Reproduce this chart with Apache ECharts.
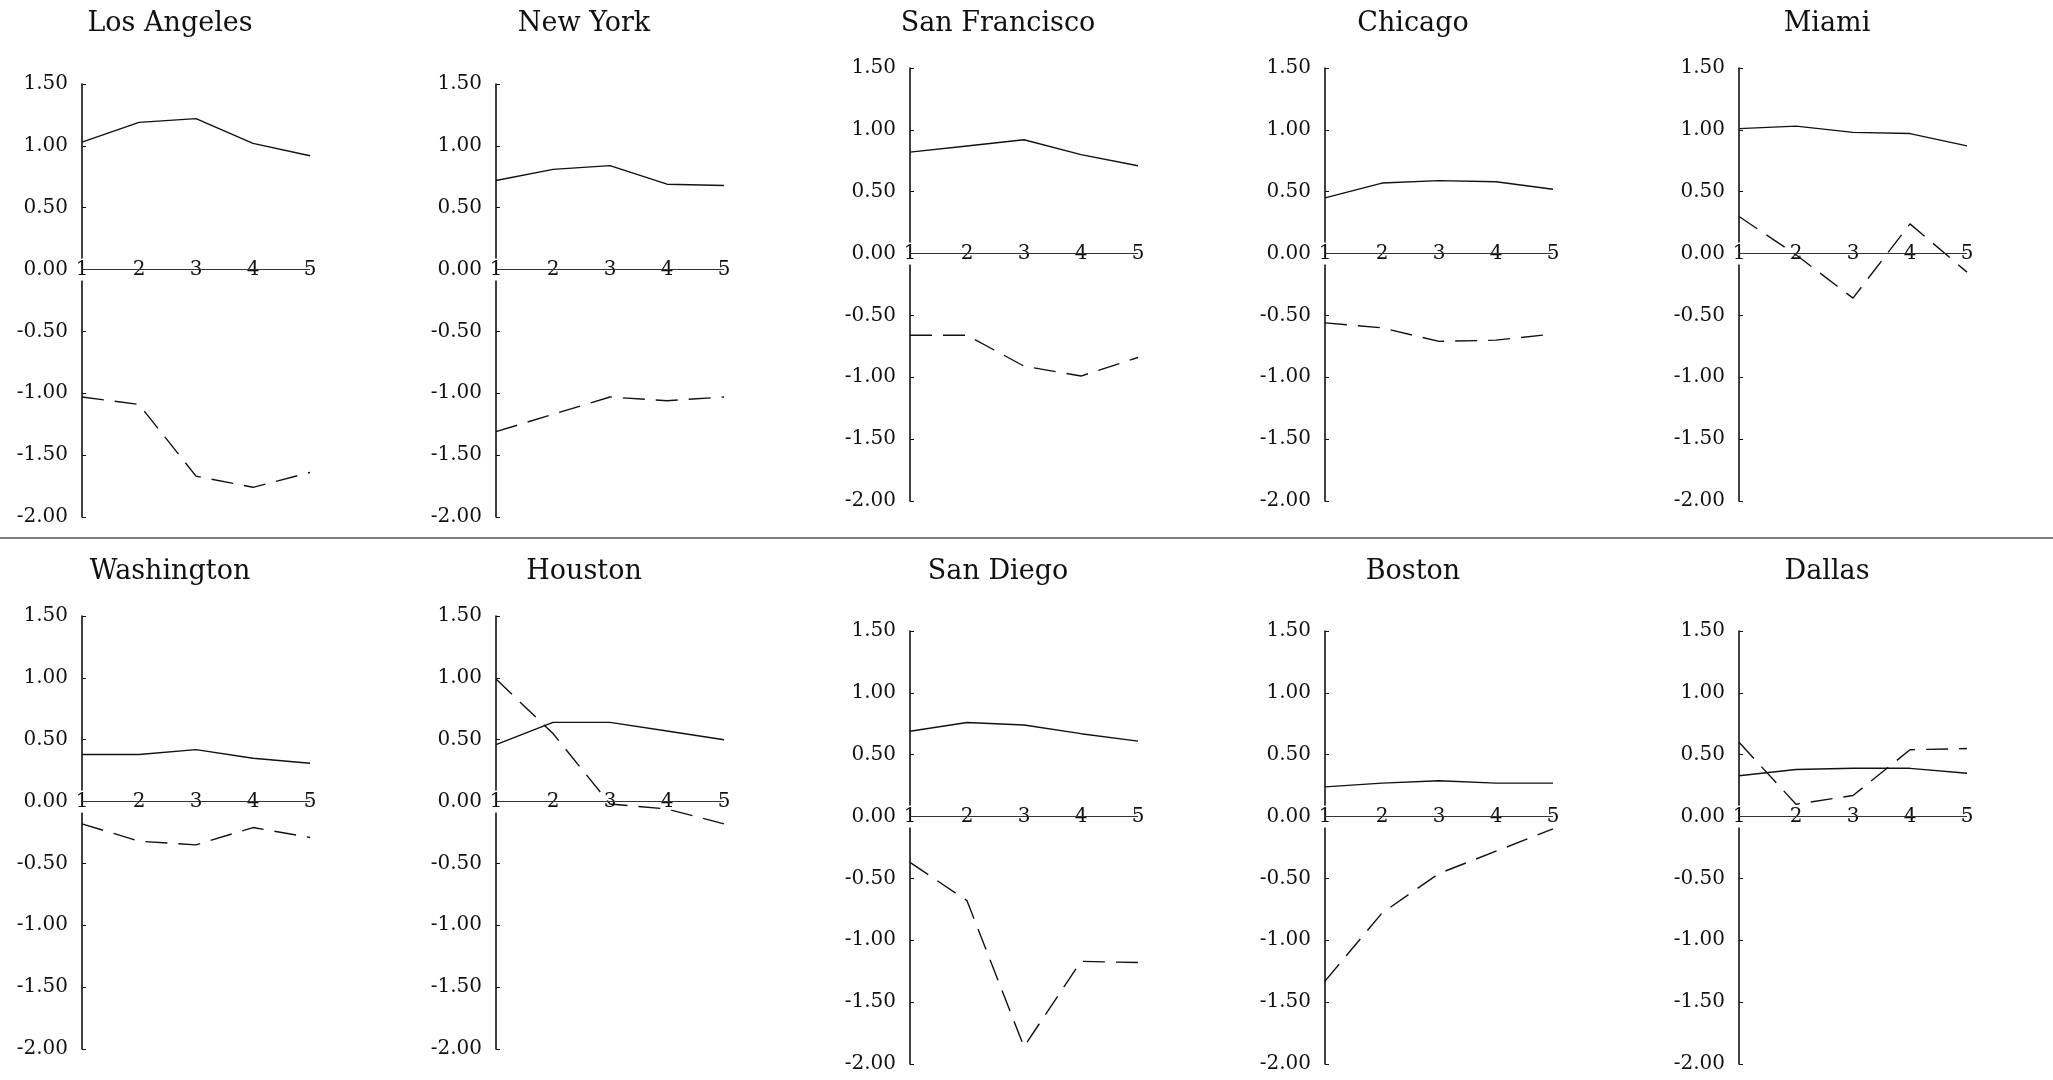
<!DOCTYPE html>
<html>
<head>
<meta charset="utf-8">
<script src="https://cdn.jsdelivr.net/npm/echarts@6/dist/echarts.min.js"></script>
<style>
  html, body { margin: 0; padding: 0; background: #fff; }
  #chart { width: 2053px; height: 1080px; }
</style>
</head>
<body>
<div id="chart"></div>
<script>
// data
const cities = ['Los Angeles', 'New York', 'San Francisco', 'Chicago', 'Miami',
  'Washington', 'Houston', 'San Diego', 'Boston', 'Dallas'];
const periods = ['1', '2', '3', '4', '5'];
const yTicks = [-2, -1.5, -1, -0.5, 0, 0.5, 1, 1.5];

// solid line per city
const solidLines = [
  [1.03, 1.19, 1.22, 1.02, 0.92],
  [0.72, 0.81, 0.84, 0.69, 0.68],
  [0.82, 0.87, 0.92, 0.80, 0.71],
  [0.45, 0.57, 0.59, 0.58, 0.52],
  [1.01, 1.03, 0.98, 0.97, 0.87],
  [0.38, 0.38, 0.42, 0.35, 0.31],
  [0.46, 0.64, 0.64, 0.57, 0.50],
  [0.69, 0.76, 0.74, 0.67, 0.61],
  [0.24, 0.27, 0.29, 0.27, 0.27],
  [0.33, 0.38, 0.39, 0.39, 0.35]
];
// dashed line per city
const dashedLines = [
  [-1.03, -1.09, -1.67, -1.76, -1.64],
  [-1.31, -1.17, -1.03, -1.06, -1.03],
  [-0.66, -0.66, -0.91, -0.99, -0.84],
  [-0.56, -0.60, -0.71, -0.70, -0.65],
  [0.30, -0.01, -0.36, 0.24, -0.15],
  [-0.18, -0.32, -0.35, -0.21, -0.29],
  [0.99, 0.55, -0.02, -0.06, -0.18],
  [-0.37, -0.68, -1.86, -1.17, -1.18],
  [-1.33, -0.78, -0.46, -0.28, -0.10],
  [0.60, 0.10, 0.17, 0.54, 0.55]
];

const chart = echarts.init(document.getElementById('chart'));
const FONT = "'DejaVu Serif', 'Liberation Serif', serif";

// panel layout (pixels)
const colLeft = [82, 496, 910, 1325, 1739];
const panelTop = [84, 84, 68, 68, 68, 616, 616, 631, 631, 631];
const plotW = 228;
const plotH = 433;
const titleY = [24, 572];
const yMin = yTicks[0];
const yMax = yTicks[yTicks.length - 1];
// move the category axis up from the bottom edge to the zero line
const zeroOffset = -plotH * (0 - yMin) / (yMax - yMin);

const grid = [], xAxis = [], yAxis = [], series = [], graphic = [];

cities.forEach((name, i) => {
  const col = i % 5;
  const row = Math.floor(i / 5);
  grid.push({ left: colLeft[col], top: panelTop[i], width: plotW, height: plotH, containLabel: false });
  xAxis.push({
    gridIndex: i,
    type: 'category',
    data: periods,
    boundaryGap: false,
    position: 'bottom',
    offset: zeroOffset,
    z: 1,
    axisLine: { show: true, onZero: false, lineStyle: { color: '#333', width: 1 } },
    axisTick: { show: false },
    axisLabel: {
      margin: -11,
      fontSize: 20,
      fontFamily: FONT,
      color: '#111',
      backgroundColor: '#fff',
      padding: [1, 0]
    }
  });
  yAxis.push({
    gridIndex: i,
    type: 'value',
    min: yMin,
    max: yMax,
    interval: 0.5,
    z: 0,
    splitLine: { show: false },
    axisLine: { show: true, lineStyle: { color: '#111', width: 1.6 } },
    axisTick: { show: true, inside: true, length: 4, lineStyle: { color: '#111', width: 1 } },
    axisLabel: {
      margin: 14,
      fontSize: 20,
      fontFamily: FONT,
      color: '#111',
      formatter: v => v.toFixed(2)
    }
  });
  series.push({
    type: 'line',
    xAxisIndex: i,
    yAxisIndex: i,
    data: solidLines[i],
    symbol: 'none',
    lineStyle: { color: '#111', width: 1.4, type: 'solid' },
    animation: false,
    silent: true,
    // zero line drawn over the axis labels
    markLine: {
      silent: true,
      symbol: ['none', 'none'],
      label: { show: false },
      lineStyle: { color: '#333', width: 1, type: 'solid' },
      data: [{ yAxis: 0 }],
      animation: false
    }
  });
  series.push({
    type: 'line',
    xAxisIndex: i,
    yAxisIndex: i,
    data: dashedLines[i],
    symbol: 'none',
    lineStyle: { color: '#111', width: 1.4, type: [22, 11] },
    animation: false,
    silent: true
  });
  graphic.push({
    type: 'text',
    x: colLeft[col] + 88,
    y: titleY[row],
    style: {
      text: name,
      fontSize: 27,
      fontFamily: FONT,
      fill: '#111',
      align: 'center',
      verticalAlign: 'middle'
    }
  });
});

// separator between the two rows
graphic.push({
  type: 'line',
  shape: { x1: 0, y1: 538, x2: 2053, y2: 538 },
  style: { stroke: '#555', lineWidth: 1.5 }
});

chart.setOption({
  backgroundColor: '#fff',
  animation: false,
  grid: grid,
  xAxis: xAxis,
  yAxis: yAxis,
  series: series,
  graphic: graphic
});
</script>
</body>
</html>
